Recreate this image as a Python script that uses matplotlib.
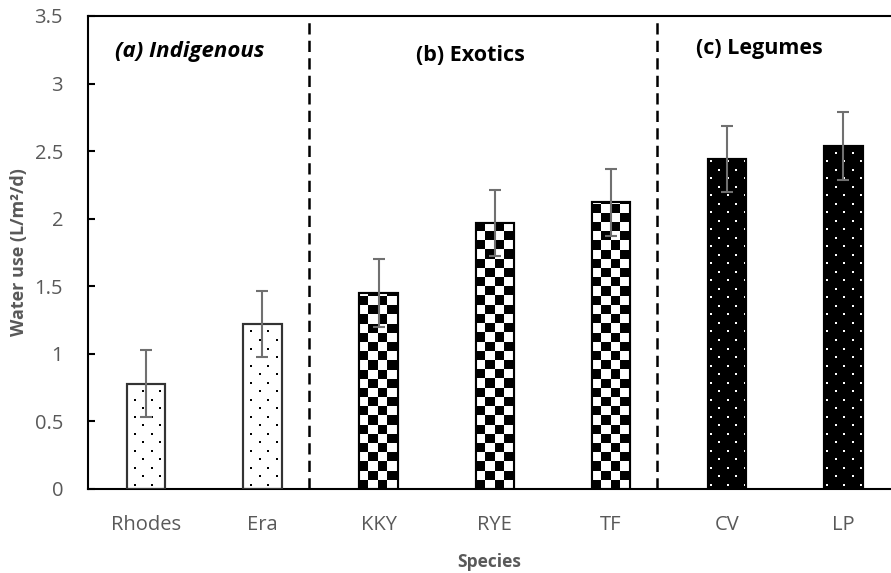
import numpy as np
import matplotlib.pyplot as plt

plt.rcParams['font.family'] = ['Open Sans', 'DejaVu Sans']

# valeurs
species = ['Rhodes', 'Era', 'KKY', 'RYE', 'TF', 'CV', 'LP']
groups = ['indigenous', 'indigenous', 'exotic', 'exotic', 'exotic', 'legume', 'legume']
water_use = [0.78, 1.22, 1.45, 1.97, 2.12, 2.44, 2.54]
std_err = [0.245, 0.245, 0.25, 0.245, 0.25, 0.245, 0.25]
group_labels = ['(a) Indigenous', '(b) Exotics', '(c) Legumes']
y_ticks = [0, 0.5, 1, 1.5, 2, 2.5, 3, 3.5]
y_tick_labels = ['0', '0.5', '1', '1.5', '2', '2.5', '3', '3.5']

grey = '#595959'
w = 0.33

fig = plt.figure(figsize=(8.91, 5.73), dpi=100)
ax = fig.add_axes([0.0988, 0.1466, 0.9012, 0.8255])

x = np.arange(len(species))


def add_dots(bar, x0, h, color, start):
    # motif de points en quinconce, coupé à la forme de la barre
    dx, dy = 0.146, 0.063
    pts = []
    row = 0
    yy = dy / 2
    while yy < h + dy:
        off = start + (dx / 2 if row % 2 else 0)
        for xx in np.arange(x0 + off, x0 + w, dx):
            pts.append((xx, yy))
        yy += dy
        row += 1
    pts = np.array(pts)
    sc = ax.scatter(pts[:, 0], pts[:, 1], s=2.6, marker='s', c=color,
                    linewidths=0, zorder=2.5)
    sc.set_clip_path(bar)


def add_checker(bar, x0, h):
    # damier noir et blanc
    cw, ch = 0.08, 0.068
    nx = int(np.ceil(w / cw)) + 1
    ny = int(np.ceil(h / ch)) + 1
    board = np.add.outer(np.arange(ny), np.arange(nx)) % 2
    im = ax.imshow(board, cmap='gray', extent=[x0, x0 + nx * cw, 0, ny * ch],
                   origin='lower', aspect='auto', interpolation='nearest',
                   zorder=2.5)
    im.set_clip_path(bar)


face = {'indigenous': 'white', 'exotic': 'white', 'legume': 'black'}
edge = {'indigenous': '#333333', 'exotic': 'black', 'legume': 'black'}

bars = ax.bar(x, water_use, w, color=[face[g] for g in groups],
              edgecolor=[edge[g] for g in groups], linewidth=1.5, zorder=2)

for b, g, v in zip(bars, groups, water_use):
    x0 = b.get_x()
    if g == 'indigenous':
        add_dots(b, x0, v, 'black', 0.069)
    elif g == 'legume':
        add_dots(b, x0, v, 'white', 0.026)
    else:
        add_checker(b, x0, v)

# contours par-dessus les motifs
ax.bar(x, water_use, w, fill=False, edgecolor=[edge[g] for g in groups],
       linewidth=1.5, zorder=3)

ax.errorbar(x, water_use, yerr=std_err, fmt='none', ecolor='#707070',
            elinewidth=1.5, capsize=4.5, capthick=1.5, zorder=4)

# séparateurs entre groupes
for xv in [1.4, 4.4]:
    ax.axvline(xv, color='black', linewidth=1.8, dashes=(4.5, 2.5), zorder=1)

ax.text(0.374, 3.24, group_labels[0], fontsize=16, fontweight='bold',
        fontstyle='italic', ha='center', va='center')
ax.text(2.79, 3.21, group_labels[1], fontsize=15.5, fontweight='bold',
        ha='center', va='center')
ax.text(5.28, 3.26, group_labels[2], fontsize=15.5, fontweight='bold',
        ha='center', va='center')

ax.set_xlim(-0.5, 6.41)
ax.set_ylim(0, 3.5)
ax.set_xticks(x)
ax.set_xticklabels(species)
ax.set_yticks(y_ticks)
ax.set_yticklabels(y_tick_labels)

for s in ['left', 'top', 'bottom']:
    ax.spines[s].set_linewidth(1.5)
    ax.spines[s].set_color('black')
ax.spines['right'].set_visible(False)

ax.tick_params(axis='y', direction='in', length=5, width=1.5,
               labelcolor=grey, labelsize=14.5, pad=18)
ax.tick_params(axis='x', length=0, labelcolor=grey, labelsize=14.5, pad=19)

ax.set_xlabel('Species', fontsize=12.5, fontweight='bold', color=grey, labelpad=13)
ax.set_ylabel('Water use (L/m²/d)', fontsize=13, fontweight='bold',
              color=grey, labelpad=5)

fig.savefig('out.png', dpi=100)
